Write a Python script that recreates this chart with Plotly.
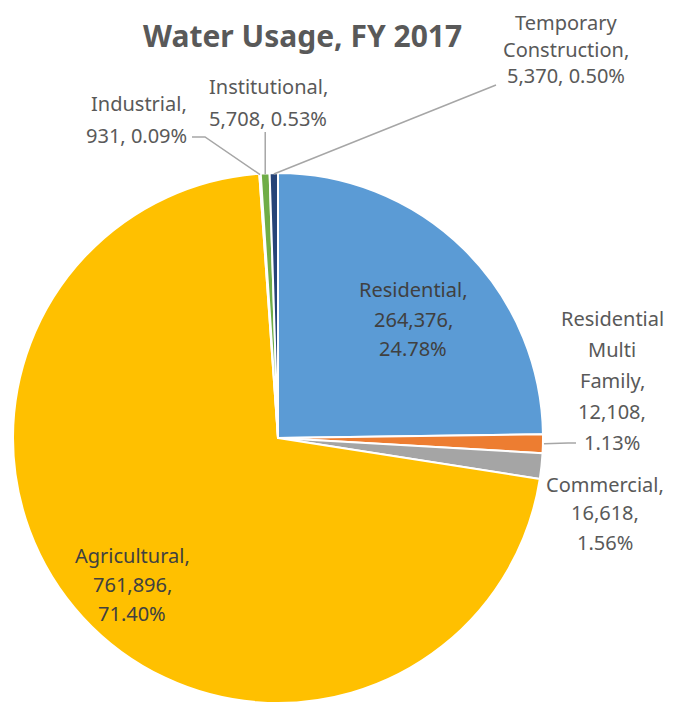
import math
import plotly.graph_objects as go

# ---- data ----
categories = ["Residential", "Residential Multi Family", "Commercial", "Agricultural",
              "Industrial", "Institutional", "Temporary Construction"]
values = [264376, 12108, 16618, 761896, 931, 5708, 5370]
colors = ["#5B9BD5", "#ED7D31", "#A5A5A5", "#FFC000", "#4472C4", "#70AD47", "#264478"]
label_lines = {
    "Residential": ["Residential,", "264,376,", "24.78%"],
    "Residential Multi Family": ["Residential", "Multi", "Family,", "12,108,", "1.13%"],
    "Commercial": ["Commercial,", "16,618,", "1.56%"],
    "Agricultural": ["Agricultural,", "761,896,", "71.40%"],
    "Industrial": ["Industrial,", "931, 0.09%"],
    "Institutional": ["Institutional,", "5,708, 0.53%"],
    "Temporary Construction": ["Temporary", "Construction,", "5,370, 0.50%"],
}

OFF = 8  # page body margin
W, H = 673 - OFF, 705 - OFF
CX, CY, R = 278, 438, 265  # pie centre / radius in screen pixels


def px(x):
    return (x - OFF) / W


def py(y):
    return 1 - (y - OFF) / H


fig = go.Figure(go.Pie(
    labels=categories, values=values, sort=False, direction="clockwise", rotation=0,
    marker=dict(colors=colors, line=dict(color="white", width=2)),
    textinfo="none", hoverinfo="label+value+percent", showlegend=False,
    domain=dict(x=[px(CX - R), px(CX + R)], y=[py(CY + R), py(CY - R)]),
))

# label placement (layout): centre x, first line y, line spacing, anchor, colour
placement = {
    "Residential": (413, 290, 29, "center", "#404040"),
    "Residential Multi Family": (612, 318, 31, "center", "#595959"),
    "Commercial": (605, 484, 29, "center", "#595959"),
    "Agricultural": (132, 555, 29, "center", "#404040"),
    "Industrial": (189, 104, 32, "right", "#595959"),
    "Institutional": (268, 86, 32, "center", "#595959"),
    "Temporary Construction": (566, 22, 27, "center", "#595959"),
}

annotations = []
for cat in categories:
    x0, y0, dy, anchor, col = placement[cat]
    for i, line in enumerate(label_lines[cat]):
        annotations.append(dict(
            x=px(x0), y=py(y0 + i * dy), xref="paper", yref="paper",
            text=line, showarrow=False, xanchor=anchor, yanchor="middle",
            font=dict(family="Noto Sans", size=20, color=col)))

annotations.append(dict(
    x=px(302), y=py(36), xref="paper", yref="paper", text="<b>Water Usage, FY 2017</b>",
    showarrow=False, xanchor="center", yanchor="middle",
    font=dict(family="Noto Sans", size=30, color="#595959")))

# slice mid-angles from data -> leader line end points on the pie edge
total = sum(values)
mid = {}
cum = 0
for cat, v in zip(categories, values):
    a = (cum + v / 2) / total * 2 * math.pi
    mid[cat] = a
    cum += v


def edge(cat, extra=0):
    a = mid[cat]
    return CX + (R + extra) * math.sin(a), CY - (R + extra) * math.cos(a)

shapes = []
line_style = dict(color="#A6A6A6", width=1.5)
# Industrial
ex, ey = edge("Industrial", -1)
shapes.append(dict(type="path", xref="paper", yref="paper",
                   path=f"M {px(192)},{py(137)} L {px(205)},{py(137)} L {px(ex)},{py(ey)}",
                   line=line_style))
# Institutional
ex, ey = edge("Institutional", -1)
shapes.append(dict(type="line", xref="paper", yref="paper",
                   x0=px(ex), y0=py(132), x1=px(ex), y1=py(ey), line=line_style))
# Temporary Construction
ex, ey = edge("Temporary Construction", -1)
shapes.append(dict(type="line", xref="paper", yref="paper",
                   x0=px(496), y0=py(85), x1=px(ex), y1=py(ey), line=line_style))
# Residential Multi Family
ex, ey = edge("Residential Multi Family", 1)
shapes.append(dict(type="path", xref="paper", yref="paper",
                   path=f"M {px(ex)},{py(ey)} L {px(568)},{py(443)} L {px(576)},{py(443)}",
                   line=line_style))

fig.update_layout(
    width=W, height=H, margin=dict(l=0, r=0, t=0, b=0),
    paper_bgcolor="white", plot_bgcolor="white",
    annotations=annotations, shapes=shapes,
)

fig.write_html("out.html")
